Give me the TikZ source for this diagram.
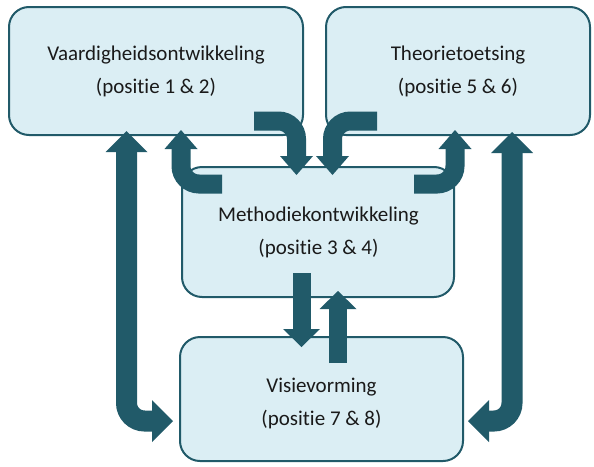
\documentclass[tikz,border=0pt]{standalone}
\usepackage{fontspec}
\setmainfont{Carlito}[Ligatures=NoCommon]
\usetikzlibrary{arrows.meta,calc}

\definecolor{boxfill}{HTML}{DBEEF4}
\definecolor{teal}{HTML}{215A69}
\definecolor{txtc}{HTML}{1A1A1A}

\tikzset{
  panel/.style={draw=teal, line width=2pt, fill=boxfill, rounded corners=20pt,
    inner sep=0pt},
  caption/.style={align=center, text=txtc, inner sep=0pt,
    font=\fontsize{21}{33}\selectfont},
  % thick block arrows: shaft width, head width, head length
  longarrow/.style={draw=teal, line width=21pt, rounded corners=18pt,
    {Triangle[width=42pt,length=21pt,line width=0pt]}-{Triangle[width=42pt,length=21pt,line width=0pt]}},
  bendarrow/.style={draw=teal, line width=19pt, rounded corners=18pt,
    -{Triangle[width=33pt,length=19pt,line width=0pt]}},
  flowarrow/.style={draw=teal, line width=18pt,
    -{Triangle[width=37pt,length=18pt,line width=0pt]}},
}

\begin{document}
\begin{tikzpicture}[x=1pt,y=-1pt]
  \useasboundingbox (0,0) rectangle (594,466);

  % the four panels
  \node[panel, minimum width=294pt, minimum height=128pt] (b1) at (156,71) {};
  \node[panel, minimum width=264pt, minimum height=128pt] (b2) at (458,71) {};
  \node[panel, minimum width=272pt, minimum height=130pt] (b3) at (318,232) {};
  \node[panel, minimum width=283pt, minimum height=124pt] (b4) at (321.5,399) {};

  % panel captions
  \node[caption] (t1) at (b1) {Vaardigheidsontwikkeling\\(positie 1 \& 2)};
  \node[caption] (t2) at (b2) {Theorietoetsing\\(positie 5 \& 6)};
  \node[caption] (t3) at ($(b3)+(0.5,0.5)$) {Methodiekontwikkeling\\(positie 3 \& 4)};
  \node[caption] (t4) at ($(b4)+(0,4.5)$) {Visievorming\\(positie 7 \& 8)};

  % long two-way arrows along the outer sides
  \draw[longarrow] ($(b1.south west)+(118.5,-5)$) |- ($(b4.west)+(-6,22)$);
  \draw[longarrow] ($(b2.south west)+(187,-4)$) |- ($(b4.east)+(4,22)$);

  % bent arrows between the top panels and the middle panel
  \draw[bendarrow] ($(b3.north west)+(41,18)$) -| ($(b1.south west)+(173,-6)$);
  \draw[bendarrow] ($(b1.south west)+(246,-15)$) -| ($(b3.north west)+(115.5,9)$);
  \draw[bendarrow] ($(b2.south west)+(52,-15)$) -| ($(b3.north west)+(151.5,9)$);
  \draw[bendarrow] ($(b3.north east)+(-41,18)$) -| ($(b2.south west)+(130,-6)$);

  % straight arrows between the middle and bottom panels
  \draw[flowarrow] ($(b3.south)+(-16.5,-25)$) -- ($(b4.north)+(-20,11)$);
  \draw[flowarrow] ($(b4.north)+(16.5,27)$) -- ($(b3.south)+(20,-7)$);
\end{tikzpicture}
\end{document}
